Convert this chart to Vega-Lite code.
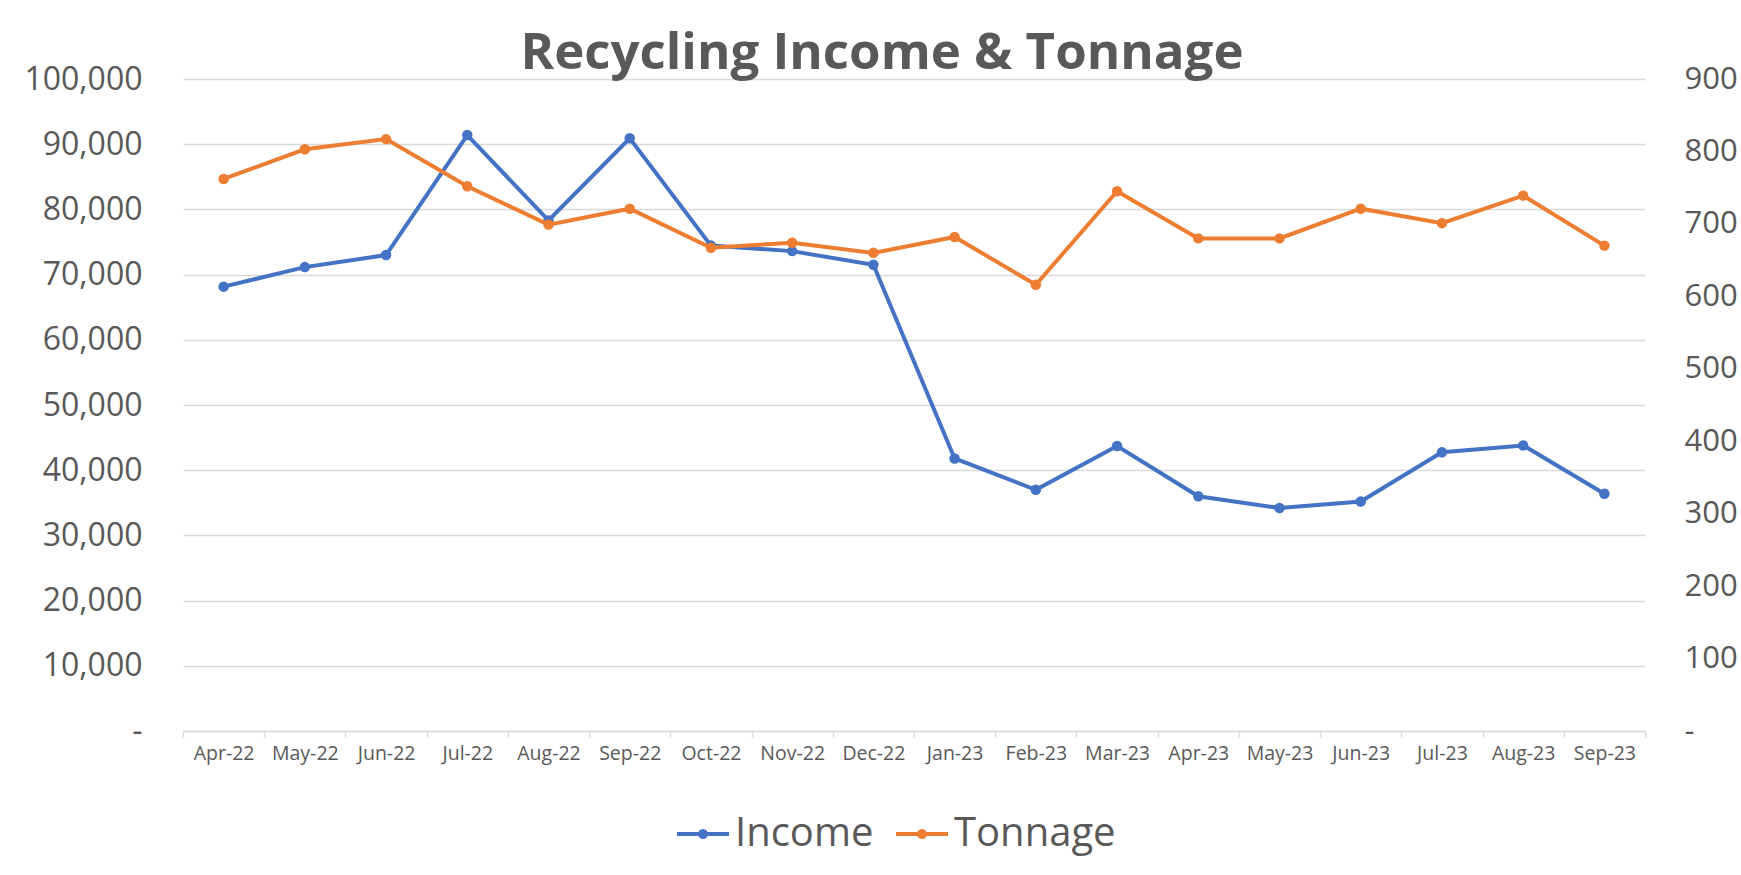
{
  "$schema": "https://vega.github.io/schema/vega-lite/v6.json",
  "width": 1462,
  "height": 652,
  "autosize": {"type": "none"},
  "padding": {"left": 183, "top": 79, "right": 96, "bottom": 144},
  "background": "white",
  "config": {
    "view": {"stroke": null},
    "font": "Open Sans",
    "axis": {"labelFont": "Open Sans", "labelColor": "#595959"},
    "legend": {"labelFont": "Open Sans"}
  },
  "title": {
    "text": "Recycling Income & Tonnage",
    "fontSize": 51,
    "fontWeight": "bold",
    "color": "#595959",
    "font": "Open Sans",
    "anchor": "middle",
    "dx": -32,
    "dy": 21,
    "offset": 4
  },
  "data": {
    "values": [
      {"month": "Apr-22", "income": 68150, "tonnage": 762},
      {"month": "May-22", "income": 71150, "tonnage": 803},
      {"month": "Jun-22", "income": 73000, "tonnage": 817},
      {"month": "Jul-22", "income": 91400, "tonnage": 752},
      {"month": "Aug-22", "income": 78300, "tonnage": 699},
      {"month": "Sep-22", "income": 90900, "tonnage": 721},
      {"month": "Oct-22", "income": 74450, "tonnage": 667},
      {"month": "Nov-22", "income": 73600, "tonnage": 674},
      {"month": "Dec-22", "income": 71500, "tonnage": 660},
      {"month": "Jan-23", "income": 41800, "tonnage": 682},
      {"month": "Feb-23", "income": 37000, "tonnage": 616},
      {"month": "Mar-23", "income": 43700, "tonnage": 745},
      {"month": "Apr-23", "income": 36000, "tonnage": 680},
      {"month": "May-23", "income": 34200, "tonnage": 680},
      {"month": "Jun-23", "income": 35200, "tonnage": 721},
      {"month": "Jul-23", "income": 42750, "tonnage": 701},
      {"month": "Aug-23", "income": 43800, "tonnage": 739},
      {"month": "Sep-23", "income": 36400, "tonnage": 670}
    ]
  },
  "encoding": {
    "x": {
      "field": "month",
      "type": "ordinal",
      "sort": null,
      "bandPosition": 0.5,
      "scale": {"type": "band", "paddingInner": 0, "paddingOuter": 0},
      "axis": {
        "title": null,
        "labelAngle": 0,
        "labelFontSize": 19.5,
        "labelPadding": 7,
        "tickBand": "extent",
        "ticks": true,
        "tickColor": "#D9D9D9",
        "tickSize": 6,
        "tickWidth": 1.5,
        "domainColor": "#D9D9D9",
        "domainWidth": 1.5,
        "grid": false
      }
    }
  },
  "layer": [
    {
      "mark": {"type": "line", "strokeWidth": 4, "point": {"filled": true, "size": 110}},
      "encoding": {
        "y": {
          "field": "income",
          "type": "quantitative",
          "scale": {"domain": [0, 100000]},
          "axis": {
            "title": null,
            "values": [0, 10000, 20000, 30000, 40000, 50000, 60000, 70000, 80000, 90000, 100000],
            "labelExpr": "datum.value == 0 ? '-\u2007' : format(datum.value, ',')",
            "labelFontSize": 32,
            "labelPadding": 41,
            "ticks": false,
            "domain": false,
            "grid": true,
            "gridColor": "#D9D9D9",
            "gridWidth": 1.5
          }
        },
        "color": {
          "datum": "Income",
          "type": "nominal",
          "scale": {"domain": ["Income", "Tonnage"], "range": ["#4472C4", "#ED7D31"]},
          "legend": {
            "title": null,
            "orient": "none",
            "direction": "horizontal",
            "legendX": 492,
            "legendY": 727,
            "symbolType": "M-1,0L1,0M-0.12,0A0.12,0.12,0,1,1,0.12,0A0.12,0.12,0,1,1,-0.12,0Z",
            "symbolSize": 2704,
            "symbolStrokeWidth": 4,
            "labelFontSize": 40,
            "labelLimit": 0,
            "labelColor": "#595959",
            "labelOffset": 4,
            "columnPadding": 14
          }
        }
      }
    },
    {
      "mark": {"type": "line", "strokeWidth": 4, "point": {"filled": true, "size": 110}},
      "encoding": {
        "y": {
          "field": "tonnage",
          "type": "quantitative",
          "scale": {"domain": [0, 900]},
          "axis": {
            "orient": "right",
            "title": null,
            "values": [0, 100, 200, 300, 400, 500, 600, 700, 800, 900],
            "labelExpr": "datum.value == 0 ? '-' : format(datum.value, ',')",
            "labelFontSize": 31,
            "labelPadding": 39,
            "ticks": false,
            "domain": false,
            "grid": false
          }
        },
        "color": {"datum": "Tonnage", "type": "nominal"}
      }
    }
  ],
  "resolve": {"scale": {"y": "independent"}}
}
